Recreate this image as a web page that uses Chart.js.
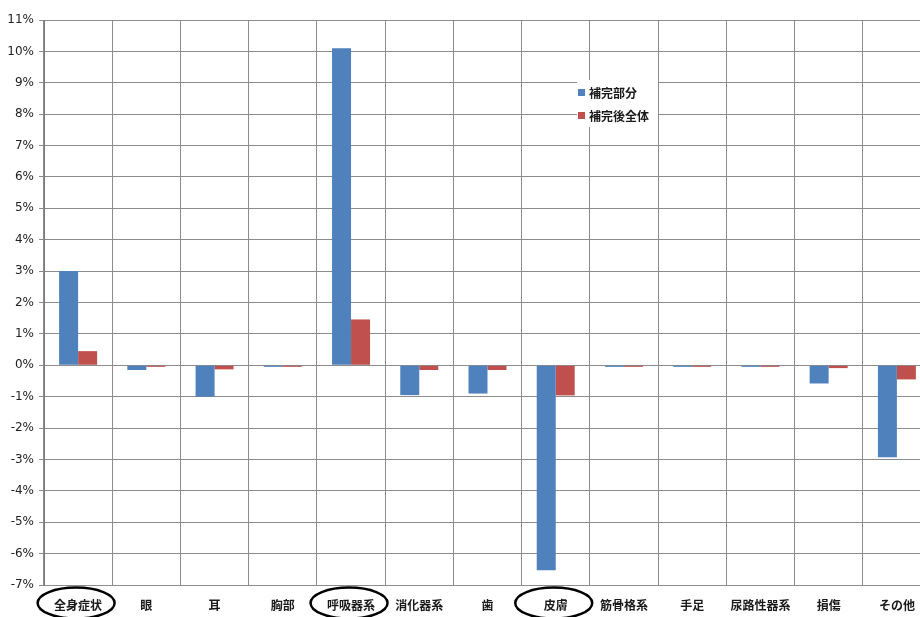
<!DOCTYPE html>
<html>
<head>
<meta charset="utf-8">
<title>補完部分と補完後全体</title>
<script src="https://cdn.jsdelivr.net/npm/chart.js@4/dist/chart.umd.min.js"></script>
<style>
  html, body { margin: 0; padding: 0; background: #fff; overflow: hidden; }
  #wrap { width: 931px; height: 617px; }
</style>
</head>
<body>
<div id="wrap"><canvas id="chart" width="931" height="617"></canvas></div>
<script>
// categories and values (%)
var kategori = ["全身症状", "眼", "耳", "胸部", "呼吸器系", "消化器系", "歯", "皮膚", "筋骨格系", "手足", "尿路性器系", "損傷", "その他"];
var hokanBubun = [3.0, -0.15, -1.0, -0.05, 10.1, -0.95, -0.9, -6.53, -0.05, -0.05, -0.05, -0.58, -2.93];
var hokanZentai = [0.45, -0.05, -0.13, -0.05, 1.46, -0.15, -0.15, -0.96, -0.05, -0.05, -0.05, -0.09, -0.45];
var yMin = -7, yMax = 11, yStep = 1;
// labels circled in the original
var maruKategori = ["全身症状", "呼吸器系", "皮膚"];

var jpFont = '"Noto Sans CJK JP", "Noto Sans", sans-serif';

// legend box drawn inside the plot like the original
var legendPlugin = {
  id: 'boxLegend',
  afterDraw: function(chart) {
    var ctx = chart.ctx;
    ctx.save();
    ctx.fillStyle = '#fff';
    ctx.fillRect(577, 80, 81, 47);
    chart.data.datasets.forEach(function(ds, i) {
      var y = 92 + i * 23;
      ctx.fillStyle = ds.backgroundColor;
      ctx.fillRect(578, y - 3, 7, 7);
      ctx.fillStyle = '#1a1a1a';
      ctx.font = 'bold 12px ' + jpFont;
      ctx.textBaseline = 'middle';
      ctx.textAlign = 'left';
      ctx.fillText(ds.label, 589, y + 1);
    });
    ctx.restore();
  }
};

// ellipses round some category labels
var maruPlugin = {
  id: 'maru',
  afterDraw: function(chart) {
    var ctx = chart.ctx;
    var xs = chart.scales.x;
    ctx.save();
    ctx.strokeStyle = '#000';
    ctx.lineWidth = 2.5;
    maruKategori.forEach(function(k) {
      var idx = kategori.indexOf(k);
      var cx = xs.getPixelForValue(idx) - 2;
      ctx.beginPath();
      ctx.ellipse(cx, 603, 38.5, 15.5, 0, 0, Math.PI * 2);
      ctx.stroke();
    });
    ctx.restore();
  }
};

var ctx = document.getElementById('chart').getContext('2d');
var chart = new Chart(ctx, {
  type: 'bar',
  data: {
    labels: kategori,
    datasets: [
      {
        label: "補完部分",
        data: hokanBubun,
        backgroundColor: '#4f81bd',
        categoryPercentage: 0.557,
        barPercentage: 1.0
      },
      {
        label: "補完後全体",
        data: hokanZentai,
        backgroundColor: '#c0504d',
        categoryPercentage: 0.557,
        barPercentage: 1.0
      }
    ]
  },
  options: {
    responsive: false,
    animation: false,
    devicePixelRatio: 1,
    layout: { padding: { top: 20, left: 0, right: 0, bottom: 0 } },
    plugins: {
      legend: { display: false },
      tooltip: { enabled: false }
    },
    scales: {
      x: {
        offset: true,
        grid: { offset: true, color: '#8c8c8c', lineWidth: 1, drawTicks: false },
        border: { color: '#8c8c8c' },
        ticks: {
          color: '#1a1a1a',
          font: { family: jpFont, size: 12, weight: 'bold' },
          padding: 13,
          maxRotation: 0,
          autoSkip: false
        },
        afterFit: function(scale) { scale.height = 32; }
      },
      y: {
        min: yMin,
        max: yMax,
        grid: { color: '#8c8c8c', lineWidth: 1, tickLength: 5 },
        border: { color: '#7a7a7a' },
        ticks: {
          stepSize: yStep,
          color: '#222',
          padding: 5,
          font: { family: '"DejaVu Sans", Verdana, sans-serif', size: 12 },
          callback: function(v) { return v + '%'; }
        },
        afterFit: function(scale) { scale.width = 44; }
      }
    }
  },
  plugins: [legendPlugin, maruPlugin]
});
</script>
</body>
</html>
